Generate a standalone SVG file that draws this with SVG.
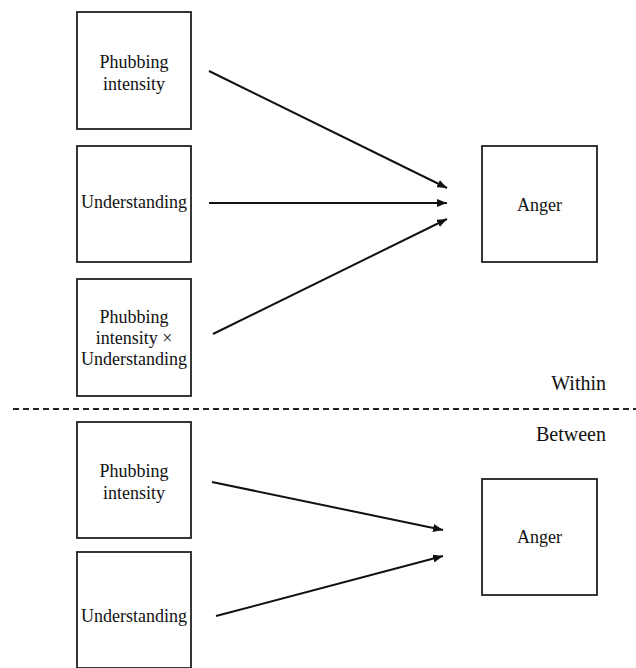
<svg xmlns="http://www.w3.org/2000/svg" width="636" height="668" viewBox="0 0 636 668">
  <style>
    .box { fill: #fff; stroke: #222; stroke-width: 1.8; }
    .edge { stroke: #111; stroke-width: 2; fill: none; marker-end: url(#tip); }
  </style>
  <defs>
    <marker id="tip" viewBox="0 0 10 8" refX="10" refY="4" markerWidth="5" markerHeight="4" markerUnits="strokeWidth" orient="auto">
      <path d="M0,0 L10,4 L0,8 Z" fill="#111"/>
    </marker>
  </defs>
  <rect width="636" height="668" fill="#fff"/>

  <!-- node labels share one serif text style, set on the groups -->
  <g font-family="Liberation Serif, serif" font-size="18" fill="#111" text-anchor="middle">
    <!-- within-person level -->
    <g id="w-phubbing">
      <rect class="box" x="77" y="12" width="114" height="117"/>
      <text x="134" y="68">Phubbing</text>
      <text x="134" y="90">intensity</text>
    </g>
    <g id="w-understanding">
      <rect class="box" x="77" y="146" width="114" height="116"/>
      <text x="134" y="208">Understanding</text>
    </g>
    <g id="w-interaction">
      <rect class="box" x="77" y="279" width="114" height="117"/>
      <text x="134" y="323">Phubbing</text>
      <text x="134" y="344">intensity ×</text>
      <text x="134" y="365">Understanding</text>
    </g>
    <g id="w-anger">
      <rect class="box" x="482" y="146" width="115" height="116"/>
      <text x="539.5" y="211">Anger</text>
    </g>

    <!-- between-person level -->
    <g id="b-phubbing">
      <rect class="box" x="77" y="422" width="114" height="116"/>
      <text x="134" y="477">Phubbing</text>
      <text x="134" y="499">intensity</text>
    </g>
    <g id="b-understanding">
      <rect class="box" x="77" y="552" width="114" height="116"/>
      <text x="134" y="622">Understanding</text>
    </g>
    <g id="b-anger">
      <rect class="box" x="482" y="479" width="115" height="116"/>
      <text x="539.5" y="543">Anger</text>
    </g>
  </g>

  <!-- level separator -->
  <g id="levels" font-family="Liberation Serif, serif" font-size="20" fill="#111" text-anchor="end">
    <text x="606" y="390">Within</text>
    <line x1="13" y1="409" x2="636" y2="409" stroke="#222" stroke-width="2" stroke-dasharray="6 4"/>
    <text x="606" y="441">Between</text>
  </g>

  <g id="connectors">
    <line class="edge" x1="209" y1="71" x2="447" y2="188"/>
    <line class="edge" x1="209" y1="203" x2="447" y2="203"/>
    <line class="edge" x1="213" y1="334" x2="447" y2="219"/>
    <line class="edge" x1="212" y1="482" x2="443" y2="530"/>
    <line class="edge" x1="216" y1="616" x2="443" y2="556"/>
  </g>
</svg>
